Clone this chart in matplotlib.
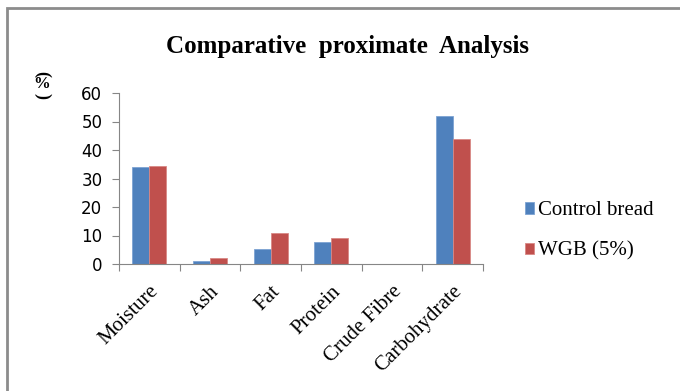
import numpy as np
import matplotlib.pyplot as plt
from matplotlib.patches import Rectangle
from matplotlib.transforms import ScaledTranslation

# Datos del análisis proximal (%)
categorias = ['Moisture', 'Ash', 'Fat', 'Protein', 'Crude Fibre', 'Carbohydrate']
control = [34.0, 1.2, 5.3, 7.7, 0.0, 52.0]
wgb = [34.5, 2.0, 10.8, 9.1, 0.0, 43.7]
series = ['Control bread', 'WGB (5%)']
yticks = [0, 10, 20, 30, 40, 50, 60]

plt.rcParams['font.family'] = ['Liberation Serif', 'DejaVu Serif']

fig = plt.figure(figsize=(6.8, 3.91), dpi=100)
ax = fig.add_axes([119 / 680, 1 - 264 / 391, 364 / 680, 171 / 391])

x = np.arange(len(categorias))
w = 0.28
ax.bar(x - w / 2, control, w, color='#4F81BD', edgecolor='#7DA3D3', linewidth=0.6, label=series[0])
ax.bar(x + w / 2, wgb, w, color='#C0504D', edgecolor='#D98885', linewidth=0.6, label=series[1])

ax.set_xlim(-0.5, len(categorias) - 0.5)
ax.set_ylim(0, 60)
ax.set_yticks(yticks)
ax.set_yticklabels([str(v) for v in yticks], family='DejaVu Sans', fontsize=12)
ax.tick_params(axis='y', length=5, color='#868686', pad=7)
ax.set_xticks(np.arange(len(categorias) + 1) - 0.5)
ax.set_xticklabels([])
ax.tick_params(axis='x', length=5, color='#868686')

# etiquetas de categoría giradas 45°
desplaza = ScaledTranslation(0, -18 / 100, fig.dpi_scale_trans)
for i, c in enumerate(categorias):
    ax.text(i, 0, c, rotation=45, ha='right', va='top', fontsize=15,
            rotation_mode='anchor', transform=ax.transData + desplaza)

for s in ['top', 'right']:
    ax.spines[s].set_visible(False)
for s in ['left', 'bottom']:
    ax.spines[s].set_color('#868686')

fig.text(348 / 680, 1 - 47 / 391, 'Comparative  proximate  Analysis', ha='center', va='center',
         fontsize=18, fontweight='bold')

# etiqueta del eje y: paréntesis girados y % vertical
fig.text(42 / 680, 1 - 74 / 391, '(', rotation=-90, ha='center', va='center', fontsize=13, fontweight='bold')
fig.text(42 / 680, 1 - 84 / 391, '%', ha='center', va='center', fontsize=12, fontweight='bold')
fig.text(42 / 680, 1 - 96 / 391, ')', rotation=-90, ha='center', va='center', fontsize=13, fontweight='bold')

ax.legend(loc='center left', bbox_to_anchor=(506 / 680, 1 - 231 / 391), bbox_transform=fig.transFigure,
          frameon=False, fontsize=15, handlelength=0.45, handleheight=0.45, handletextpad=0.2,
          labelspacing=1.0)

# marco gris del gráfico
fig.patches.append(Rectangle((7 / 680, -0.1), 1, 1 - 8 / 391 + 0.1, transform=fig.transFigure,
                             fill=False, edgecolor='#8C8C8C', linewidth=2))

fig.savefig('out.png', dpi=100)
